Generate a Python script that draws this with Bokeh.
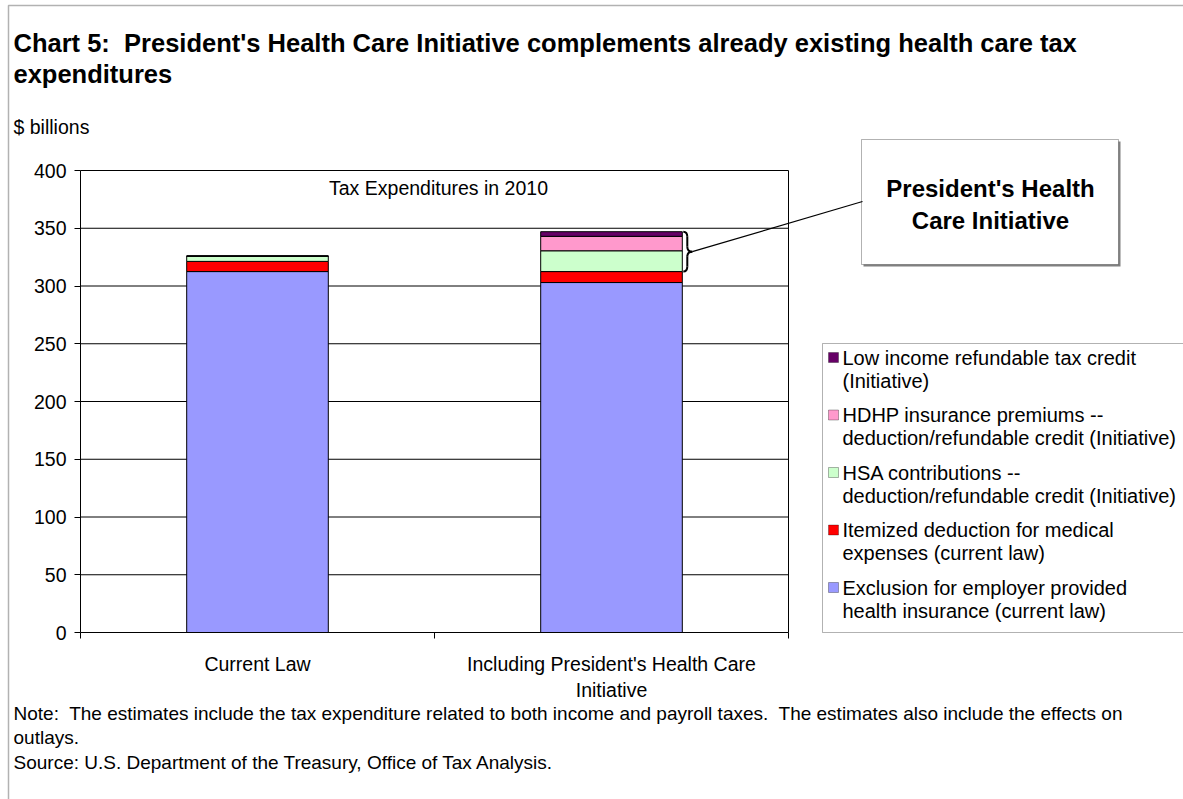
from bokeh.plotting import figure
from bokeh.models import (ColumnDataSource, Range1d, FixedTicker, Label, BoxAnnotation, Arrow)
from bokeh.embed import file_html
from bokeh.resources import INLINE

# ---------------- data ----------------
categories = ["Current Law", "Including President's Health Care\nInitiative"]
exclusion = [312.5, 303.0]      # Exclusion for employer provided health insurance (current law)
itemized = [8.8, 9.5]           # Itemized deduction for medical expenses (current law)
hsa = [4.6, 18.0]               # HSA contributions (Initiative)
hdhp = [0.0, 12.5]              # HDHP insurance premiums (Initiative)
low_income = [0.0, 4.0]         # Low income refundable tax credit (Initiative)
y_ticks = [0, 50, 100, 150, 200, 250, 300, 350, 400]
y_max = 400

series_keys = ["exclusion", "itemized", "hsa", "hdhp", "low_income"]
series_labels = [
    ["Exclusion for employer provided", "health insurance (current law)"],
    ["Itemized deduction for medical", "expenses (current law)"],
    ["HSA contributions --", "deduction/refundable credit (Initiative)"],
    ["HDHP insurance premiums --", "deduction/refundable credit (Initiative)"],
    ["Low income refundable tax credit", "(Initiative)"],
]
series_colors = ["#9999FF", "#FF0000", "#CCFFCC", "#FF99CC", "#660066"]

# ---------------- layout (pixels) ----------------
W, H = 1183, 799
FL, FR, FT, FB = 80, 788, 170, 632   # plot-area edges
FONT = "Liberation Sans"
TS = "19.5px"
NB = "\u00a0"

ncat = len(categories)
ux = ncat / (FR - FL)          # data units per pixel (x)
uy = y_max / (FB - FT)         # data units per pixel (y)

def px2x(px):
    return (px - FL) * ux
def py2y(py):
    return (FB - py) * uy

pos = [i + 0.5 for i in range(ncat)]
src = ColumnDataSource(dict(x=pos, exclusion=exclusion, itemized=itemized, hsa=hsa,
                            hdhp=hdhp, low_income=low_income))

p = figure(width=W, height=H,
           x_range=Range1d(px2x(0), px2x(W)), y_range=Range1d(py2y(H), py2y(0)),
           output_backend="svg", toolbar_location=None,
           min_border_left=0, min_border_right=0, min_border_top=0, min_border_bottom=0)
p.outline_line_color = None
p.background_fill_color = "white"
p.border_fill_color = "white"
p.grid.visible = False

# gridlines and right frame edge
gl = [t for t in y_ticks if t > 0]
p.segment(x0=[0] * len(gl), y0=gl, x1=[ncat] * len(gl), y1=gl, line_color="black", line_width=1)
p.segment(x0=[ncat], y0=[0], x1=[ncat], y1=[y_max], line_color="black", line_width=1)

renderers = p.vbar_stack(series_keys, x="x", width=0.4, source=src, color=series_colors,
                         line_color="black", line_width=1)

# axes
p.yaxis.fixed_location = 0
p.yaxis.bounds = (0, y_max)
p.yaxis.ticker = FixedTicker(ticks=y_ticks)
p.yaxis.major_tick_in = 0
p.yaxis.major_tick_out = 6
p.yaxis.minor_tick_line_color = None
p.yaxis.axis_line_color = "black"
p.yaxis.major_tick_line_color = "black"
p.yaxis.major_label_text_font = FONT
p.yaxis.major_label_text_font_size = TS
p.yaxis.major_label_text_color = "black"
p.yaxis.major_label_standoff = 8

p.xaxis.fixed_location = 0
p.xaxis.bounds = (0, ncat)
p.xaxis.ticker = FixedTicker(ticks=pos, minor_ticks=list(range(ncat + 1)))
p.xaxis.major_label_overrides = {pos[i]: categories[i] for i in range(ncat)}
p.xaxis.major_tick_in = 0
p.xaxis.major_tick_out = 0
p.xaxis.minor_tick_in = 0
p.xaxis.minor_tick_out = 6
p.xaxis.minor_tick_line_color = "black"
p.xaxis.axis_line_color = "black"
p.xaxis.major_label_text_font = FONT
p.xaxis.major_label_text_font_size = TS
p.xaxis.major_label_text_color = "black"
p.xaxis.major_label_standoff = 14

# outer frame
p.add_layout(BoxAnnotation(left=px2x(8), right=px2x(W + 50), top=py2y(5), bottom=py2y(H + 50),
                           fill_alpha=0, line_color="black", line_width=1.5))

def lab(text, px, py, size=TS, bold=False, align="left"):
    p.add_layout(Label(x=px2x(px), y=py2y(py), text=text, text_font=FONT, text_font_size=size,
                       text_font_style="bold" if bold else "normal", text_color="black",
                       text_align=align, text_baseline="middle"))

# texts
lab("Chart 5:" + NB + " President's Health Care Initiative complements already existing health care tax",
    13, 42, size="25.5px", bold=True)
lab("expenditures", 13, 73, size="25.5px", bold=True)
lab("$ billions", 13, 126)
lab("Tax Expenditures in 2010", 438, 187, align="center")
lab("Note:" + NB + " The estimates include the tax expenditure related to both income and payroll taxes."
    + NB + " The estimates also include the effects on", 13, 713, size="19px")
lab("outlays.", 13, 737, size="19px")
lab("Source: U.S. Department of the Treasury, Office of Tax Analysis.", 13, 762, size="19px")

# legend (manual)
p.add_layout(BoxAnnotation(left=px2x(822), right=px2x(W + 50), top=py2y(343), bottom=py2y(632),
                           fill_color="white", fill_alpha=1, line_color="black", line_width=1))
first_y = 357
pitch = 57.5
for k, i in enumerate(reversed(range(len(series_keys)))):
    yy = first_y + k * pitch
    p.add_layout(BoxAnnotation(left=px2x(828), right=px2x(838), top=py2y(yy - 5), bottom=py2y(yy + 5),
                               fill_color=series_colors[i], fill_alpha=1, line_color="black",
                               line_width=1))
    lab(series_labels[i][0], 842, yy, size="20px")
    lab(series_labels[i][1], 842, yy + 23, size="20px")

# callout box
p.add_layout(BoxAnnotation(left=px2x(863), right=px2x(1120), top=py2y(141), bottom=py2y(266),
                           fill_color="#808080", fill_alpha=1, line_color=None))
p.add_layout(BoxAnnotation(left=px2x(861), right=px2x(1118), top=py2y(139), bottom=py2y(264),
                           fill_color="white", fill_alpha=1, line_color="black", line_width=1))
lab("President's Health", 990, 188, size="24px", bold=True, align="center")
lab("Care Initiative", 990, 220, size="24px", bold=True, align="center")

# brace around the Initiative segments of the second bar
top = exclusion[1] + itemized[1] + hsa[1] + hdhp[1] + low_income[1]
bot = exclusion[1] + itemized[1]
mid = (top + bot) / 2
xb = pos[1] + 0.2 + 1 * ux
x4 = xb + 4 * ux
x9 = xb + 9 * ux
r = 5 * uy
p.quadratic(x0=[xb, x4, x4, x4], y0=[top, mid + r, mid - r, bot + r],
            x1=[x4, x9, x9, xb], y1=[top - r, mid, mid, bot],
            cx=[x4, x4, x4, x4], cy=[top, mid, mid, bot], line_color="black", line_width=2)
p.segment(x0=[x4, x4], y0=[top - r, mid - r], x1=[x4, x4], y1=[mid + r, bot + r],
          line_color="black", line_width=2)
p.add_layout(Arrow(end=None, x_start=x9, y_start=mid, x_end=px2x(862), y_end=py2y(201),
                   line_color="black", line_width=1.2))

open("out.html", "w").write(file_html(p, INLINE))
